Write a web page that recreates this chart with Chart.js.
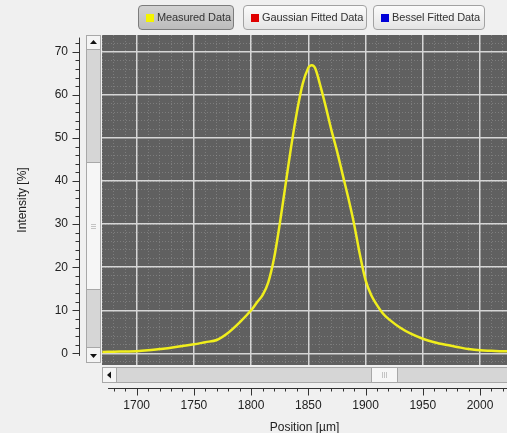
<!DOCTYPE html>
<html>
<head>
<meta charset="utf-8">
<script src="https://cdn.jsdelivr.net/npm/chart.js@4.4.1/dist/chart.umd.min.js"></script>
<style>
  html, body { margin: 0; padding: 0; background: #f0f0f0; }
  #wrap { position: relative; width: 507px; height: 433px; overflow: hidden; }
  #wrap canvas { position: absolute; left: 0; top: 0; }
  .btn { position: absolute; top: 5px; height: 25px; box-sizing: border-box; border: 1px solid #a2a2a2; border-radius: 4px;
         background: linear-gradient(#fbfbfb, #e4e4e4); font: 11px "Liberation Sans", Arial, sans-serif; color: #333;
         line-height: 23px; padding-left: 18px; white-space: nowrap; letter-spacing: -0.1px; }
  .btn i { position: absolute; left: 7px; top: 8px; width: 8px; height: 8px; }
  .btn.on { background: linear-gradient(#d2d2d2, #bcbcbc); border-color: #7c7c7c; }
</style>
</head>
<body>
<div id="wrap">
  <canvas id="chart" width="507" height="433"></canvas>
  <div class="btn on" style="left:138px;width:96px"><i style="background:#f4f400"></i>Measured Data</div>
  <div class="btn" style="left:243px;width:124px"><i style="background:#e00000"></i>Gaussian Fitted Data</div>
  <div class="btn" style="left:373px;width:112px"><i style="background:#0000d8"></i>Bessel Fitted Data</div>
</div>
<script>
// measured profile
const positions = [1670, 1680, 1690, 1700, 1710, 1720, 1730, 1740, 1750, 1760, 1770, 1780, 1790, 1800,
                   1805, 1810, 1815, 1820, 1825, 1830, 1835, 1840, 1845, 1850, 1853, 1856, 1860, 1865,
                   1870, 1875, 1880, 1885, 1890, 1895, 1900, 1905, 1910, 1915, 1920, 1930, 1940, 1950,
                   1960, 1970, 1980, 1990, 2000, 2010, 2020, 2025];
const intensity = [0.3, 0.4, 0.45, 0.5, 0.7, 1.0, 1.3, 1.7, 2.1, 2.6, 3.1, 4.8, 7.2, 10.0,
                   11.8, 13.5, 16.5, 22, 30, 39, 48, 56, 62.5, 66.3, 66.9, 66.2, 62.6, 57.5,
                   52, 47, 41.5, 36, 30, 23, 17, 13.5, 11.2, 9.3, 8, 6, 4.5, 3.4,
                   2.6, 2.0, 1.5, 1.0, 0.7, 0.6, 0.5, 0.5];

const xRange = [1669.7, 2023.6];
const yRange = [-2.7, 73.9];

const points = positions.map((p, i) => ({x: p, y: intensity[i]}));

const plotBack = {
    id: 'plotBack',
    beforeDraw(chart) {
        const {ctx, chartArea: a} = chart;
        ctx.save();
        ctx.fillStyle = '#606060';
        ctx.fillRect(a.left, a.top, a.right - a.left, a.bottom - a.top);
        ctx.restore();
    }
};

function scrollBox(ctx, x, y, w, h, fill) {
    ctx.fillStyle = fill;
    ctx.fillRect(x, y, w, h);
    ctx.strokeStyle = '#a8a8a8';
    ctx.lineWidth = 1;
    ctx.strokeRect(x + 0.5, y + 0.5, w - 1, h - 1);
}

// detached axes + scroll bars, like the original widget
const decor = {
    id: 'decor',
    afterDraw(chart) {
        const {ctx, chartArea: a, scales} = chart;
        const xs = scales.x, ys = scales.y;
        ctx.save();

        // vertical scroll bar
        const vx = a.left - 16;
        scrollBox(ctx, vx, a.top, 15, a.bottom - a.top - 2, '#d6d6d6');
        scrollBox(ctx, vx, a.top + 127, 15, 128, '#f6f6f6');
        ctx.strokeStyle = '#c4c4c4';
        for (let k = -2; k <= 2; k += 2) {
            ctx.beginPath();
            ctx.moveTo(vx + 5, a.top + 191 + k + 0.5);
            ctx.lineTo(vx + 10, a.top + 191 + k + 0.5);
            ctx.stroke();
        }
        scrollBox(ctx, vx, a.top, 15, 15, '#f4f4f4');
        scrollBox(ctx, vx, a.bottom - 18, 15, 16, '#f4f4f4');
        ctx.fillStyle = '#111';
        ctx.beginPath();
        ctx.moveTo(vx + 4, a.top + 9); ctx.lineTo(vx + 11, a.top + 9); ctx.lineTo(vx + 7.5, a.top + 5);
        ctx.fill();
        ctx.beginPath();
        ctx.moveTo(vx + 4, a.bottom - 11); ctx.lineTo(vx + 11, a.bottom - 11); ctx.lineTo(vx + 7.5, a.bottom - 7);
        ctx.fill();

        // horizontal scroll bar
        const hy = a.bottom + 2;
        scrollBox(ctx, a.left, hy, a.right - a.left + 2, 16, '#d6d6d6');
        scrollBox(ctx, a.left + 269, hy, 27, 16, '#f6f6f6');
        ctx.strokeStyle = '#c4c4c4';
        for (let k = -2; k <= 2; k += 2) {
            ctx.beginPath();
            ctx.moveTo(a.left + 282 + k + 0.5, hy + 5);
            ctx.lineTo(a.left + 282 + k + 0.5, hy + 11);
            ctx.stroke();
        }
        scrollBox(ctx, a.left, hy, 15, 16, '#f4f4f4');
        ctx.fillStyle = '#111';
        ctx.beginPath();
        ctx.moveTo(a.left + 9, hy + 4.5); ctx.lineTo(a.left + 9, hy + 11.5); ctx.lineTo(a.left + 5, hy + 8);
        ctx.fill();

        // y axis line and ticks
        ctx.strokeStyle = '#333';
        ctx.lineWidth = 1;
        const ax = a.left - 22.5;
        ctx.beginPath();
        ctx.moveTo(ax, ys.getPixelForValue(73.3));
        ctx.lineTo(ax, ys.getPixelForValue(-0.6));
        for (let v = 0; v <= 72; v += 2) {
            const py = Math.round(ys.getPixelForValue(v)) + 0.5;
            ctx.moveTo(ax, py);
            ctx.lineTo(ax - (v % 10 === 0 ? 7 : 4), py);
        }
        ctx.stroke();

        // x axis line and ticks
        const ay = a.bottom + 23.5;
        ctx.beginPath();
        ctx.moveTo(xs.getPixelForValue(1675), ay);
        ctx.lineTo(a.right, ay);
        for (let v = 1680; v <= 2020; v += 10) {
            const px = Math.round(xs.getPixelForValue(v)) + 0.5;
            ctx.moveTo(px, ay);
            ctx.lineTo(px, ay + (v % 50 === 0 ? 7 : 3));
        }
        ctx.stroke();
        ctx.restore();
    }
};

function noPad(s) {
    s.paddingLeft = 0; s.paddingRight = 0; s.paddingTop = 0; s.paddingBottom = 0;
}

const tickFont = {family: '"Liberation Sans", Arial, sans-serif', size: 12};

new Chart(document.getElementById('chart'), {
    type: 'line',
    data: {
        datasets: [{
            label: 'Measured Data',
            data: points,
            borderColor: '#f0ee1c',
            borderWidth: 2.5,
            pointRadius: 0,
            tension: 0.3,
            fill: false
        }]
    },
    options: {
        responsive: false,
        animation: false,
        layout: {padding: {top: 35, right: 0, bottom: 0, left: 0}},
        plugins: {legend: {display: false}, tooltip: {enabled: false}},
        scales: {
            xm: {
                type: 'linear', position: 'bottom', min: xRange[0], max: xRange[1], z: -1,
                ticks: {display: false, stepSize: 10, includeBounds: false},
                grid: {color: 'rgba(150,150,150,0.55)', lineWidth: 1, drawTicks: false},
                border: {display: false, dash: [1, 2]},
                afterFit(s) { s.height = 0; noPad(s); }
            },
            ym: {
                type: 'linear', position: 'left', min: yRange[0], max: yRange[1], z: -1,
                ticks: {display: false, stepSize: 2, includeBounds: false},
                grid: {color: 'rgba(150,150,150,0.55)', lineWidth: 1, drawTicks: false},
                border: {display: false, dash: [1, 2]},
                afterFit(s) { s.width = 0; noPad(s); }
            },
            x: {
                type: 'linear', position: 'bottom', min: xRange[0], max: xRange[1],
                ticks: {stepSize: 50, includeBounds: false, padding: 33, maxRotation: 0,
                        color: '#222', font: tickFont, callback: v => String(v)},
                grid: {color: '#d6d6d6', lineWidth: 1.5, drawTicks: false},
                border: {display: false},
                title: {display: true, text: 'Position [µm]', color: '#222', font: tickFont,
                        padding: {top: 0, bottom: -2}},
                afterFit(s) { s.height = 68; noPad(s); }
            },
            y: {
                type: 'linear', position: 'left', min: yRange[0], max: yRange[1],
                ticks: {stepSize: 10, includeBounds: false, padding: 34,
                        color: '#222', font: tickFont, callback: v => String(v)},
                grid: {color: '#d6d6d6', lineWidth: 1.5, drawTicks: false},
                border: {display: false},
                title: {display: true, text: 'Intensity [%]', color: '#222', font: tickFont,
                        padding: {top: 15, bottom: 0}},
                afterFit(s) { s.width = 102; noPad(s); }
            }
        }
    },
    plugins: [plotBack, decor]
});
</script>
</body>
</html>
